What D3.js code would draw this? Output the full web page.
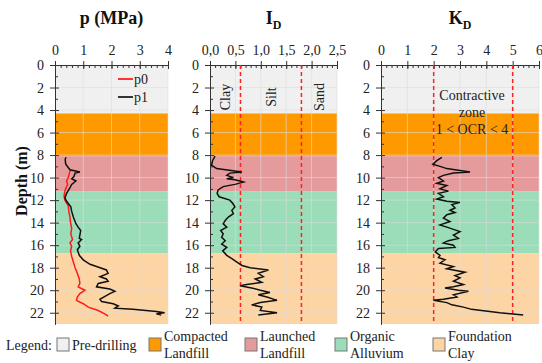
<!DOCTYPE html>
<html>
<head>
<meta charset="utf-8">
<script src="https://cdn.jsdelivr.net/npm/d3@7"></script>
<style>
  html, body { margin: 0; padding: 0; background: #fff; }
  svg { display: block; font-family: "Liberation Serif", "Times New Roman", serif; }
</style>
</head>
<body>
<svg id="chart" width="542" height="363"></svg>
<script>
// Soil layers along the profile (depth in m)
const layerNames = ["Pre-drilling", "Compacted Landfill", "Launched Landfill", "Organic Alluvium", "Foundation Clay"];
const layerTop = [0, 4.3, 8.1, 11.2, 16.7];
const layerBottom = [4.3, 8.1, 11.2, 16.7, 23];
const layerColors = ["#f0f0f0", "#ff9900", "#e59a9b", "#9bdcb9", "#fdd5a5"];

// Depth axis
const depthDomain = [0, 23];
const depthTicks = [0, 2, 4, 6, 8, 10, 12, 14, 16, 18, 20, 22];

// p0 / p1 readings (MPa)
const p0Depth = [9.3, 9.6, 10.0, 10.3, 10.6, 10.9, 11.2, 11.6, 12.0, 12.5, 13.0, 13.5, 14.0, 14.5, 15.0, 15.5, 15.8, 16.1, 16.5, 17.0, 17.5, 18.0, 18.5, 19.0, 19.4, 19.7, 20.0, 20.3, 20.6, 20.9, 21.2, 21.5, 21.8, 22.1, 22.3];
const p0Values = [0.55, 0.51, 0.47, 0.41, 0.45, 0.39, 0.35, 0.32, 0.35, 0.47, 0.49, 0.53, 0.55, 0.59, 0.56, 0.62, 0.53, 0.59, 0.55, 0.59, 0.65, 0.71, 0.79, 0.86, 0.88, 0.82, 1.06, 0.88, 0.79, 0.76, 1.0, 1.18, 1.53, 1.76, 1.88];
const p1Depth = [8.2, 8.4, 8.8, 9.3, 9.5, 9.6, 9.9, 10.1, 10.3, 10.6, 10.9, 11.4, 11.8, 12.1, 12.6, 13.0, 13.5, 14.1, 14.4, 14.7, 15.1, 15.4, 15.5, 15.8, 16.1, 16.4, 16.9, 17.3, 17.7, 17.9, 18.2, 18.5, 18.8, 19.0, 19.2, 19.4, 19.7, 19.9, 20.1, 20.3, 20.5, 20.8, 21.0, 21.2, 21.4, 21.6, 21.7, 21.9, 22.0, 22.1, 22.2];
const p1Values = [0.39, 0.36, 0.38, 0.53, 0.88, 0.71, 0.67, 0.59, 0.74, 0.59, 0.53, 0.41, 0.35, 0.41, 0.56, 0.59, 0.65, 0.74, 0.82, 0.91, 0.88, 0.86, 0.94, 0.82, 0.88, 0.79, 0.86, 1.0, 1.24, 1.47, 1.82, 1.88, 1.59, 1.82, 1.88, 1.53, 1.47, 1.94, 2.12, 1.94, 1.80, 1.59, 1.65, 2.06, 2.24, 2.12, 2.76, 3.59, 3.88, 3.59, 3.76];

// Material index I_D
const idDepth = [8.1, 8.5, 8.9, 9.2, 9.5, 9.6, 9.8, 10.0, 10.1, 10.2, 10.4, 10.6, 10.8, 11.1, 11.4, 11.7, 12.0, 12.3, 12.6, 12.9, 13.2, 13.5, 13.8, 14.1, 14.4, 14.7, 15.0, 15.3, 15.6, 15.9, 16.2, 16.5, 16.9, 17.2, 17.5, 17.8, 18.0, 18.2, 18.5, 18.8, 19.0, 19.3, 19.5, 19.6, 19.8, 20.0, 20.2, 20.4, 20.6, 20.9, 21.1, 21.3, 21.5, 21.8, 22.0, 22.2];
const idValues = [0.10, 0.05, 0.03, 0.13, 0.63, 0.39, 0.33, 0.46, 0.33, 0.49, 0.66, 0.49, 0.26, 0.16, 0.14, 0.18, 0.39, 0.45, 0.49, 0.43, 0.46, 0.36, 0.30, 0.26, 0.33, 0.21, 0.26, 0.23, 0.30, 0.23, 0.33, 0.25, 0.33, 0.43, 0.53, 0.63, 0.79, 1.15, 0.95, 1.05, 0.89, 1.02, 0.72, 0.59, 0.82, 0.99, 1.18, 0.95, 1.12, 1.32, 0.99, 0.82, 1.02, 0.99, 1.32, 0.95];
const idBounds = [0.6, 1.8];
const idZones = ["Clay", "Silt", "Sand"];
const idZoneCentres = [0.3, 1.2, 2.15];

// Horizontal stress index K_D
const kdDepth = [8.2, 8.5, 8.8, 9.0, 9.2, 9.3, 9.5, 9.6, 9.8, 10.0, 10.3, 10.5, 10.7, 11.0, 11.2, 11.4, 11.7, 11.9, 12.1, 12.2, 12.4, 12.7, 12.9, 13.1, 13.3, 13.6, 13.9, 14.2, 14.4, 14.6, 14.8, 15.1, 15.4, 15.6, 15.8, 16.0, 16.2, 16.3, 16.6, 16.9, 17.1, 17.3, 17.6, 17.9, 18.1, 18.4, 18.7, 18.9, 19.2, 19.5, 19.7, 19.8, 20.0, 20.1, 20.4, 20.6, 20.8, 20.9, 21.1, 21.3, 21.5, 21.7, 22.0, 22.2];
const kdValues = [2.31, 2.12, 1.97, 2.24, 2.50, 2.81, 3.38, 2.75, 2.37, 2.18, 2.37, 2.12, 2.50, 2.24, 2.56, 2.18, 2.37, 2.12, 2.50, 3.00, 2.69, 2.81, 2.62, 2.81, 2.50, 2.37, 2.62, 2.24, 2.50, 2.75, 3.00, 2.75, 2.94, 2.56, 2.37, 2.75, 2.81, 2.18, 2.06, 2.24, 2.18, 2.43, 2.24, 2.75, 2.50, 3.19, 2.81, 3.00, 2.75, 3.13, 2.75, 2.43, 2.94, 3.32, 2.75, 2.88, 2.37, 1.99, 2.50, 2.69, 3.13, 3.44, 4.51, 5.40];
const kdBounds = [2, 5];
const kdNote = ["Contractive", "zone", "1 < OCR < 4"];

const svg = d3.select("#chart");
const y = d3.scaleLinear().domain(depthDomain).range([65, 324]);
const commaFmt = d3.formatLocale({ decimal: ",", thousands: ".", grouping: [3], currency: ["", ""] }).format(".1f");

const panels = [
  { title: "p (MPa)", sub: null, x: d3.scaleLinear().domain([0, 4]).range([55, 168]),
    major: d3.range(0, 4.01, 1), minor: d3.range(0, 4.01, 0.2), fmt: d3.format("d") },
  { title: "I", sub: "D", x: d3.scaleLinear().domain([0, 2.5]).range([210, 337]),
    major: d3.range(0, 2.51, 0.5), minor: d3.range(0, 2.51, 0.1), fmt: commaFmt },
  { title: "K", sub: "D", x: d3.scaleLinear().domain([0, 6]).range([381, 539]),
    major: d3.range(0, 6.01, 1), minor: d3.range(0, 6.01, 0.2), fmt: d3.format("d") }
];

const line = (x, depths, vals) => d3.line().x((d, i) => x(vals[i])).y((d, i) => y(depths[i]))(depths);

panels.forEach((P, pi) => {
  const g = svg.append("g");
  const [x0, x1] = P.x.range();

  // layer bands
  g.selectAll("rect.layer").data(layerNames).join("rect")
    .attr("x", x0).attr("width", x1 - x0)
    .attr("y", (d, i) => y(layerTop[i]))
    .attr("height", (d, i) => y(layerBottom[i]) - y(layerTop[i]))
    .attr("fill", (d, i) => layerColors[i]);

  // grid
  g.selectAll("line.vg").data(P.major.slice(1)).join("line")
    .attr("x1", d => P.x(d)).attr("x2", d => P.x(d))
    .attr("y1", y(0)).attr("y2", y(23))
    .attr("stroke", "rgba(222,222,222,0.6)").attr("stroke-width", 1);
  g.selectAll("line.hg").data(depthTicks.slice(1)).join("line")
    .attr("x1", x0).attr("x2", x1)
    .attr("y1", d => y(d)).attr("y2", d => y(d))
    .attr("stroke", "rgba(222,222,222,0.6)").attr("stroke-width", 1);

  // top axis: labelled major ticks crossing the axis line, minor ticks inside
  const topY = y(0);
  const axTop = g.append("g").attr("transform", `translate(0,${topY})`)
    .call(d3.axisTop(P.x).tickValues(P.major).tickFormat(P.fmt).tickSizeInner(4).tickSizeOuter(0).tickPadding(6));
  g.append("g").attr("transform", `translate(0,${topY})`)
    .call(d3.axisTop(P.x).tickValues(P.major).tickFormat("").tickSizeInner(-4).tickSizeOuter(0));
  g.append("g").attr("transform", `translate(0,${topY})`)
    .call(d3.axisTop(P.x).tickValues(P.minor).tickFormat("").tickSizeInner(-3).tickSizeOuter(0));

  // left axis
  const axLeft = g.append("g").attr("transform", `translate(${x0},0)`)
    .call(d3.axisLeft(y).tickValues(depthTicks).tickFormat(d3.format("d")).tickSizeInner(5).tickSizeOuter(0).tickPadding(6));
  g.append("g").attr("transform", `translate(${x0},0)`)
    .call(d3.axisLeft(y).tickValues(depthTicks).tickFormat("").tickSizeInner(-4).tickSizeOuter(0));
  g.append("g").attr("transform", `translate(${x0},0)`)
    .call(d3.axisLeft(y).tickValues(d3.range(1, 23, 2)).tickFormat("").tickSizeInner(-3).tickSizeOuter(0));

  g.selectAll(".domain, .tick line").attr("stroke", "#333").attr("stroke-width", 1);
  g.selectAll(".tick text").attr("fill", "#222").style("font-size", "14px")
    .style("font-family", "'Liberation Serif', serif");

  // title
  const t = svg.append("text").attr("x", (x0 + x1) / 2).attr("y", 24)
    .attr("text-anchor", "middle").style("font-size", "18px").style("font-weight", "bold").attr("fill", "#111");
  t.append("tspan").text(P.title);
  if (P.sub) t.append("tspan").attr("dy", 5).style("font-size", "12px").text(P.sub);
});

// p panel curves
const px = panels[0].x;
svg.append("path").attr("d", line(px, p0Depth, p0Values)).attr("fill", "none").attr("stroke", "#ff1a1a").attr("stroke-width", 1.5);
svg.append("path").attr("d", line(px, p1Depth, p1Values)).attr("fill", "none").attr("stroke", "#111").attr("stroke-width", 1.5);

// p legend
const pLeg = [["p0", "#ff3333"], ["p1", "#333"]];
pLeg.forEach((d, i) => {
  const yy = 79 + i * 18;
  svg.append("line").attr("x1", 118).attr("x2", 133).attr("y1", yy).attr("y2", yy)
    .attr("stroke", d[1]).attr("stroke-width", 2);
  svg.append("text").attr("x", 134).attr("y", yy + 5).text(d[0]).style("font-size", "14px").attr("fill", "#222");
});

// I_D panel
const ix = panels[1].x;
idBounds.forEach(b => svg.append("line").attr("x1", ix(b)).attr("x2", ix(b)).attr("y1", y(0)).attr("y2", y(23))
  .attr("stroke", "#ff2020").attr("stroke-width", 1.5).attr("stroke-dasharray", "4,3"));
idZones.forEach((z, i) => {
  svg.append("text").attr("transform", `translate(${ix(idZoneCentres[i]) + 5},97) rotate(-90)`)
    .attr("text-anchor", "middle").style("font-size", "14px").attr("fill", "#222").text(z);
});
svg.append("path").attr("d", line(ix, idDepth, idValues)).attr("fill", "none").attr("stroke", "#111").attr("stroke-width", 1.5);

// K_D panel
const kx = panels[2].x;
kdBounds.forEach(b => svg.append("line").attr("x1", kx(b)).attr("x2", kx(b)).attr("y1", y(0)).attr("y2", y(23))
  .attr("stroke", "#ff2020").attr("stroke-width", 1.5).attr("stroke-dasharray", "4,3"));
kdNote.forEach((s, i) => {
  svg.append("text").attr("x", 472).attr("y", 100 + i * 17).attr("text-anchor", "middle")
    .style("font-size", "14px").attr("fill", "#222").text(s);
});
svg.append("path").attr("d", line(kx, kdDepth, kdValues)).attr("fill", "none").attr("stroke", "#111").attr("stroke-width", 1.5);

// depth label
svg.append("text").attr("transform", "translate(27,181) rotate(-90)").attr("text-anchor", "middle")
  .style("font-size", "16px").style("font-weight", "bold").attr("fill", "#111").text("Depth (m)");

// bottom legend
svg.append("text").attr("x", 6).attr("y", 350).style("font-size", "14px").attr("fill", "#222").text("Legend:");
const legX = [57, 149, 245, 335, 433];
layerNames.forEach((name, i) => {
  svg.append("rect").attr("x", legX[i]).attr("y", 338).attr("width", 12).attr("height", 13)
    .attr("fill", layerColors[i]).attr("stroke", "#777").attr("stroke-width", 1);
  const words = name.split(" ");
  const tx = svg.append("text").attr("x", legX[i] + 15).style("font-size", "14px").attr("fill", "#222");
  if (words.length === 1 || name === "Pre-drilling") {
    tx.attr("y", 350).text(name);
  } else {
    tx.attr("y", 341);
    tx.append("tspan").attr("x", legX[i] + 15).text(words[0]);
    tx.append("tspan").attr("x", legX[i] + 15).attr("dy", 17).text(words.slice(1).join(" "));
  }
});
</script>
</body>
</html>
